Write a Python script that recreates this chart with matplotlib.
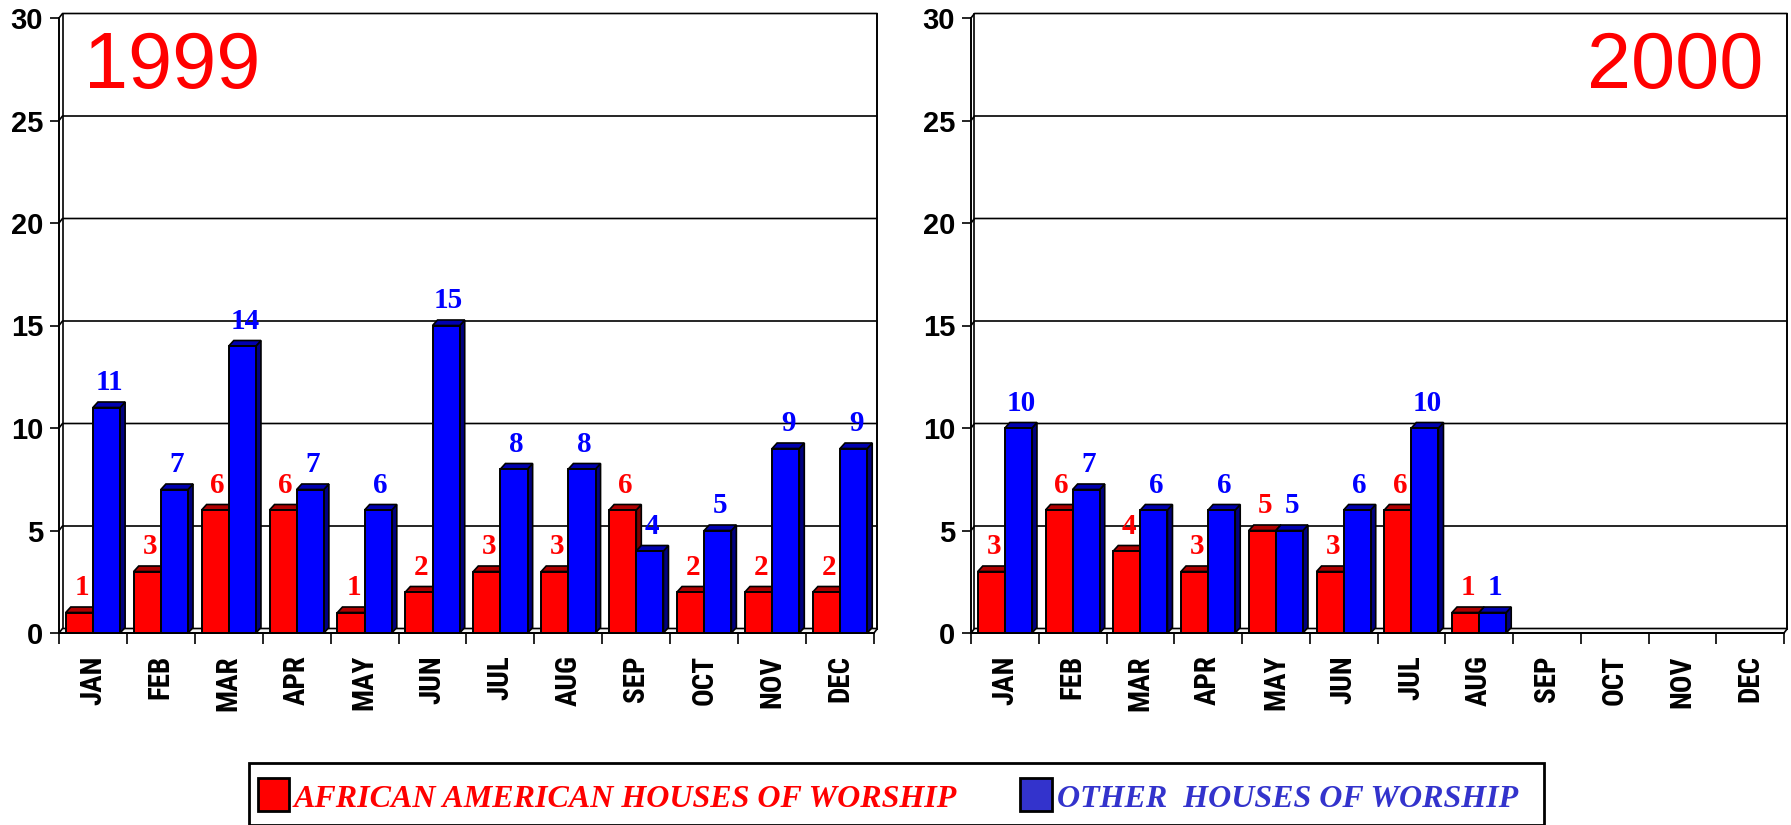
import matplotlib
matplotlib.use("Agg")
import matplotlib.pyplot as plt
from matplotlib.patches import Rectangle, Polygon
from matplotlib import font_manager

months = ["JAN", "FEB", "MAR", "APR", "MAY", "JUN", "JUL", "AUG", "SEP", "OCT", "NOV", "DEC"]
red_1999 = [1, 3, 6, 6, 1, 2, 3, 3, 6, 2, 2, 2]
blue_1999 = [11, 7, 14, 7, 6, 15, 8, 8, 4, 5, 9, 9]
red_2000 = [3, 6, 4, 3, 5, 3, 6, 1]
blue_2000 = [10, 7, 6, 6, 5, 6, 10, 1]
yticks = [0, 5, 10, 15, 20, 25, 30]
legend_labels = ["AFRICAN AMERICAN HOUSES OF WORSHIP", "OTHER  HOUSES OF WORSHIP"]

W, H = 1791, 825
fig = plt.figure(figsize=(W / 100, H / 100), dpi=100)

SANS = "Liberation Sans"
SERIF = "Liberation Serif"
bold_names = {f.name for f in font_manager.fontManager.ttflist
              if (f.weight in ("bold", 700) or (isinstance(f.weight, int) and f.weight >= 700))}
MONTH_FONT, MONTH_SIZE = SANS, 20
for cand, size in [("Liberation Sans Narrow", 22), ("Arial Narrow", 22), ("Roboto Condensed", 21),
                   ("PT Sans Narrow", 22), ("Archivo Narrow", 21), ("Open Sans Condensed", 21),
                   ("Fira Sans Condensed", 21), ("IBM Plex Sans Condensed", 21),
                   ("Asap Condensed", 21), ("Encode Sans Condensed", 21)]:
    if cand in bold_names:
        MONTH_FONT, MONTH_SIZE = cand, size
        break

RED, RED_TOP, RED_SIDE = "#ff0000", "#b00000", "#800000"
BLUE, BLUE_TOP, BLUE_SIDE = "#0000ff", "#0000b0", "#000080"

# depth offsets in data units
PX_X = 815 / 12.0
PX_Y = 615 / 30.0
WDX, WDY = 3.5 / PX_X, 4.5 / PX_Y
BDX, BDY = 5.0 / PX_X, 5.5 / PX_Y


def bar3d(ax, x, w, v, fc, top, side, z):
    ax.add_patch(Polygon([(x + w, 0), (x + w + BDX, BDY), (x + w + BDX, v + BDY), (x + w, v)],
                         closed=True, fc=side, ec="black", lw=1.2, zorder=z, clip_on=False))
    ax.add_patch(Polygon([(x, v), (x + w, v), (x + w + BDX, v + BDY), (x + BDX, v + BDY)],
                         closed=True, fc=top, ec="black", lw=1.2, zorder=z, clip_on=False))
    ax.add_patch(Rectangle((x, 0), w, v, fc=fc, ec="black", lw=1.4, zorder=z + 0.1, clip_on=False))


def panel(rect, red, blue):
    ax = fig.add_axes(rect)
    ax.set_xlim(0, 12)
    ax.set_ylim(0, 30)
    for s in ["top", "right"]:
        ax.spines[s].set_visible(False)
    ax.spines["left"].set_linewidth(1.4)
    ax.spines["bottom"].set_linewidth(1.4)
    ax.patch.set_alpha(0)

    # back wall gridlines and frame
    for y in yticks[1:]:
        ax.plot([0, WDX, 12 + WDX], [y, y + WDY, y + WDY], color="black", lw=1.2,
                zorder=1, clip_on=False, solid_capstyle="butt")
    ax.plot([WDX, WDX], [WDY, 30 + WDY], color="black", lw=1.2, zorder=1, clip_on=False)
    ax.plot([12 + WDX, 12 + WDX], [WDY, 30 + WDY], color="black", lw=1.4, zorder=1, clip_on=False)
    ax.add_patch(Polygon([(0, 0), (12, 0), (12 + WDX, WDY), (WDX, WDY)], closed=True,
                         fc="#f4f4f4", ec="black", lw=1.2, zorder=1.5, clip_on=False))

    for i, v in enumerate(red):
        bar3d(ax, i + 0.1, 0.4, v, RED, RED_TOP, RED_SIDE, 2 + i)
        ax.annotate(str(v), xy=(i + 0.3 + BDX / 2, v + BDY), xytext=(0, 8.5),
                    textcoords="offset points", ha="center", va="baseline",
                    fontsize=21, fontweight="bold", family=SERIF, color=RED, zorder=30)
    for i, v in enumerate(blue):
        bar3d(ax, i + 0.5, 0.4, v, BLUE, BLUE_TOP, BLUE_SIDE, 2.5 + i)
        ax.annotate(str(v), xy=(i + 0.7 + BDX / 2, v + BDY), xytext=(0, 8.5),
                    textcoords="offset points", ha="center", va="baseline",
                    fontsize=21, fontweight="bold", family=SERIF, color=BLUE, zorder=30)

    ax.set_yticks(yticks)
    ax.set_yticklabels([str(t) for t in yticks], fontsize=21, fontweight="bold", family=SANS)
    ax.tick_params(axis="y", length=6.5, width=1.2, pad=5)
    ax.set_xticks(range(13))
    ax.set_xticklabels([])
    ax.tick_params(axis="x", which="major", length=8, width=1.2, direction="out")
    ax.set_xticks([i + 0.5 for i in range(12)], minor=True)
    ax.set_xticklabels(months, minor=True, rotation=90, fontsize=MONTH_SIZE, fontweight="bold",
                       family=MONTH_FONT)
    ax.tick_params(axis="x", which="minor", length=0, pad=16)
    return ax


bottom = 1 - 633 / H
height = 615 / H
ax1 = panel([59 / W, bottom, 815 / W, height], red_1999, blue_1999)
ax2 = panel([971 / W, bottom, 813 / W, height], red_2000, blue_2000)

fig.text(84 / W, 1 - 88 / H, "1999", fontsize=57, family=SANS, color=RED, ha="left", va="baseline")
fig.text(1763 / W, 1 - 88 / H, "2000", fontsize=57, family=SANS, color=RED, ha="right", va="baseline")

# legend
fig.patches.append(Rectangle((249 / W, 0), (1544 - 249) / W, 1 - 763 / H - 0.0,
                             transform=fig.transFigure, fc="white", ec="black", lw=2, zorder=5))
fig.patches.append(Rectangle((258 / W, 1 - 811 / H), 31 / W, 33 / H, transform=fig.transFigure,
                             fc="#ff0000", ec="black", lw=2, zorder=6))
fig.patches.append(Rectangle((1020 / W, 1 - 811 / H), 32 / W, 33 / H, transform=fig.transFigure,
                             fc="#3333cc", ec="black", lw=2, zorder=6))
fig.text(294 / W, 1 - 807 / H, legend_labels[0], fontsize=23, fontweight="bold", fontstyle="italic",
         family=SERIF, color="#ff0000", ha="left", va="baseline", zorder=7)
fig.text(1057 / W, 1 - 807 / H, legend_labels[1], fontsize=23, fontweight="bold", fontstyle="italic",
         family=SERIF, color="#3333cc", ha="left", va="baseline", zorder=7)

fig.savefig("out.png", dpi=100)
